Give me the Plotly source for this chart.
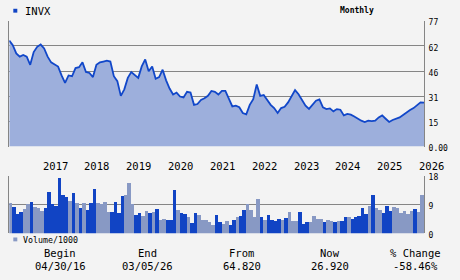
import numpy as np
import plotly.graph_objects as go

W, H = 460, 280

ticker = "INVX"
period_label = "Monthly"

# month-end closes, first point = begin value (04/30/16)
price = [64.8, 62, 57, 55, 56, 55, 50, 57.8, 61, 62.4,
         60, 55, 51.5, 50, 48.9, 43.5, 39, 43.5, 43, 48,
         48.5, 51.5, 45.6, 45, 42.5, 50, 51.5, 52, 52.5, 52,
         43, 40, 31, 35, 42, 45.5, 43.5, 42, 49, 53.3,
         46, 49, 41.5, 42.5, 47, 40.5, 35.5, 31.8, 33, 30.6,
         30, 33.5, 33, 25.5, 26, 28.5, 29.5, 31, 34, 33.5,
         31.8, 34, 34, 29.5, 24.5, 25, 24, 20.5, 19.7, 25.5,
         29, 38, 31, 31.5, 28.5, 25.5, 23.5, 20.5, 23.5, 24.3,
         27, 30.5, 34.5, 32, 28.6, 25, 23, 25.5, 28, 28.8,
         24, 22.9, 23.3, 21.5, 22.9, 22.5, 19, 19.9, 19.5, 18.4,
         17, 15.8, 15, 15.8, 15.5, 15.8, 17.8, 19, 17, 15,
         16.2, 16.9, 17.8, 19.3, 21, 22.3, 23.5, 25.5, 27, 26.9]

# monthly volume / 1000
volume = [9.6, 8.3, 6.3, 6.8, 7.7, 9.2, 9.9, 8.3, 8.1, 7.1,
          8.0, 12.9, 9.3, 8.7, 17.3, 12.0, 11.4, 10.2, 12.6, 9.6,
          8.1, 9.6, 7.4, 9.6, 14.1, 9.5, 9.2, 9.9, 6.8, 6.8,
          9.9, 6.5, 11.7, 12.0, 15.7, 9.2, 5.9, 6.5, 5.6, 7.1,
          6.5, 6.8, 7.7, 4.4, 4.7, 4.4, 4.4, 13.5, 7.5, 6.6,
          6.3, 5.1, 3.5, 6.6, 6.0, 4.4, 4.4, 3.8, 2.6, 5.7,
          3.8, 2.9, 4.1, 2.6, 4.4, 5.1, 5.4, 7.5, 9.2, 7.5,
          5.1, 10.8, 5.1, 4.4, 5.7, 4.4, 4.1, 4.7, 4.4, 5.0,
          6.8, 4.1, 4.1, 6.8, 3.2, 3.8, 3.8, 5.6, 4.7, 4.7,
          3.8, 4.4, 4.1, 3.8, 4.1, 4.1, 5.3, 5.3, 4.7, 5.3,
          5.6, 8.0, 6.2, 8.6, 12.0, 8.0, 7.4, 6.5, 8.6, 7.1,
          8.3, 8.0, 6.5, 7.1, 6.2, 7.1, 7.7, 6.8, 12.0]

# 1 = dark bar, 0 = light bar
vol_dark = [0, 1, 1, 1, 0, 0, 1, 0, 0, 0,
            1, 1, 1, 1, 1, 1, 1, 0, 1, 0,
            1, 0, 1, 1, 1, 0, 0, 0, 0, 1,
            1, 1, 1, 0, 0, 0, 1, 1, 0, 0,
            1, 0, 1, 0, 0, 1, 1, 1, 0, 1,
            1, 0, 1, 1, 0, 0, 0, 0, 0, 1,
            1, 0, 0, 1, 1, 0, 1, 1, 0, 0,
            0, 0, 1, 0, 1, 1, 1, 1, 0, 1,
            0, 0, 0, 1, 1, 1, 0, 0, 0, 0,
            1, 0, 0, 1, 0, 1, 1, 0, 1, 1,
            1, 1, 1, 0, 1, 0, 0, 1, 1, 1,
            0, 0, 0, 0, 0, 0, 1, 0, 0]

year_labels = ["2017", "2018", "2019", "2020", "2021", "2022", "2023", "2024", "2025", "2026"]
year_jan_index = [9, 21, 33, 45, 57, 69, 81, 93, 105, 117]

price_ticks = [0, 15.4, 30.8, 46.2, 61.6, 77]
price_tick_text = ["0.00", "15", "31", "46", "62", "77"]
vol_ticks = [0, 9, 18]
vol_tick_text = ["0", "9", "18"]

stat_labels = ["Begin", "End", "From", "Now", "% Change"]
stat_values = ["04/30/16", "03/05/26", "64.820", "26.920", "-58.46%"]
stat_x_px = [60, 147, 241.5, 330, 415]

BG = "#f3f3f3"
LINE = "#1147c9"
FILL = "#9dafdc"
DARK = "#1144c4"
LIGHT = "#8899c4"
GRID = "#858585"
FONT = "DejaVu Sans Mono"


def px_x(x):
    return x / W


def px_y(y):
    return 1 - y / H


n_bars = len(volume)
bar_x = np.arange(n_bars)
price_x = np.arange(len(price)) - 0.5

fig = go.Figure()
fig.add_trace(go.Scatter(
    x=price_x, y=price, mode="lines", fill="tozeroy",
    line=dict(color=LINE, width=1.8), fillcolor=FILL,
    xaxis="x", yaxis="y", hoverinfo="skip", showlegend=False))
fig.add_trace(go.Bar(
    x=bar_x, y=volume,
    marker=dict(color=[DARK if d else LIGHT for d in vol_dark], line=dict(width=0)),
    xaxis="x2", yaxis="y2", hoverinfo="skip", showlegend=False))

xdom = [px_x(9.3), px_x(424)]
xr = [-0.5, n_bars - 0.5]

fig.update_layout(
    width=W, height=H,
    margin=dict(l=0, r=0, t=0, b=0),
    paper_bgcolor=BG, plot_bgcolor=BG,
    bargap=0,
    font=dict(family=FONT, color="#000000"),
    xaxis=dict(domain=xdom, range=xr, showgrid=False, zeroline=False,
               showticklabels=False, showline=False, anchor="y"),
    yaxis=dict(domain=[px_y(149.3), px_y(19.3)], range=[0, 77], side="right",
               tickvals=price_ticks, ticktext=price_tick_text,
               tickfont=dict(size=8, family=FONT), ticks="",
               ticklabelshift=2, ticklabelstandoff=2,
               showgrid=True, gridcolor=GRID, gridwidth=1,
               showline=True, linecolor=GRID, linewidth=1, mirror=True,
               zeroline=False, anchor="x"),
    xaxis2=dict(domain=xdom, range=xr, showgrid=False, zeroline=False,
                showticklabels=False, showline=False, anchor="y2"),
    yaxis2=dict(domain=[px_y(239), px_y(179.3)], range=[0, 18], side="right",
                tickvals=vol_ticks, ticktext=vol_tick_text,
                tickfont=dict(size=8, family=FONT), ticks="",
                ticklabelshift=2, ticklabelstandoff=2,
                showgrid=True, gridcolor=GRID, gridwidth=1,
                showline=True, linecolor=GRID, linewidth=1, mirror=True,
                zeroline=False, anchor="x2"),
)

ann = []
# year labels, left-aligned at January
for lab, idx in zip(year_labels, year_jan_index):
    ann.append(dict(x=idx - 0.5, y=px_y(169.5), xref="x", yref="paper",
                    text=lab, showarrow=False, xanchor="left", yanchor="middle",
                    font=dict(size=10.5, family=FONT)))
# header
ann.append(dict(x=px_x(22.5), y=px_y(9), xref="paper", yref="paper", text=ticker,
                showarrow=False, xanchor="left", yanchor="middle",
                font=dict(size=10.5, family=FONT)))
ann.append(dict(x=px_x(357), y=px_y(9), xref="paper", yref="paper",
                text="<b>" + period_label + "</b>", showarrow=False,
                xanchor="center", yanchor="middle", font=dict(size=8, family=FONT)))
ann.append(dict(x=px_x(20.5), y=px_y(245.5), xref="paper", yref="paper",
                text="Volume/1000", showarrow=False, xanchor="left", yanchor="middle",
                font=dict(size=8.3, family=FONT)))
for lab, val, xp in zip(stat_labels, stat_values, stat_x_px):
    ann.append(dict(x=px_x(xp), y=px_y(259.5), xref="paper", yref="paper", text=lab,
                    showarrow=False, xanchor="center", yanchor="middle",
                    font=dict(size=10.5, family=FONT)))
    ann.append(dict(x=px_x(xp), y=px_y(273), xref="paper", yref="paper", text=val,
                    showarrow=False, xanchor="center", yanchor="middle",
                    font=dict(size=10.5, family=FONT)))
fig.update_layout(annotations=ann)

fig.update_layout(shapes=[
    dict(type="rect", xref="paper", yref="paper",
         x0=px_x(13.3), x1=px_x(17.3), y0=px_y(11), y1=px_y(7),
         fillcolor=DARK, line=dict(width=0)),
    dict(type="rect", xref="paper", yref="paper",
         x0=px_x(13.3), x1=px_x(17.3), y0=px_y(247.3), y1=px_y(243.3),
         fillcolor=LIGHT, line=dict(width=0)),
])

fig.write_html("out.html")
